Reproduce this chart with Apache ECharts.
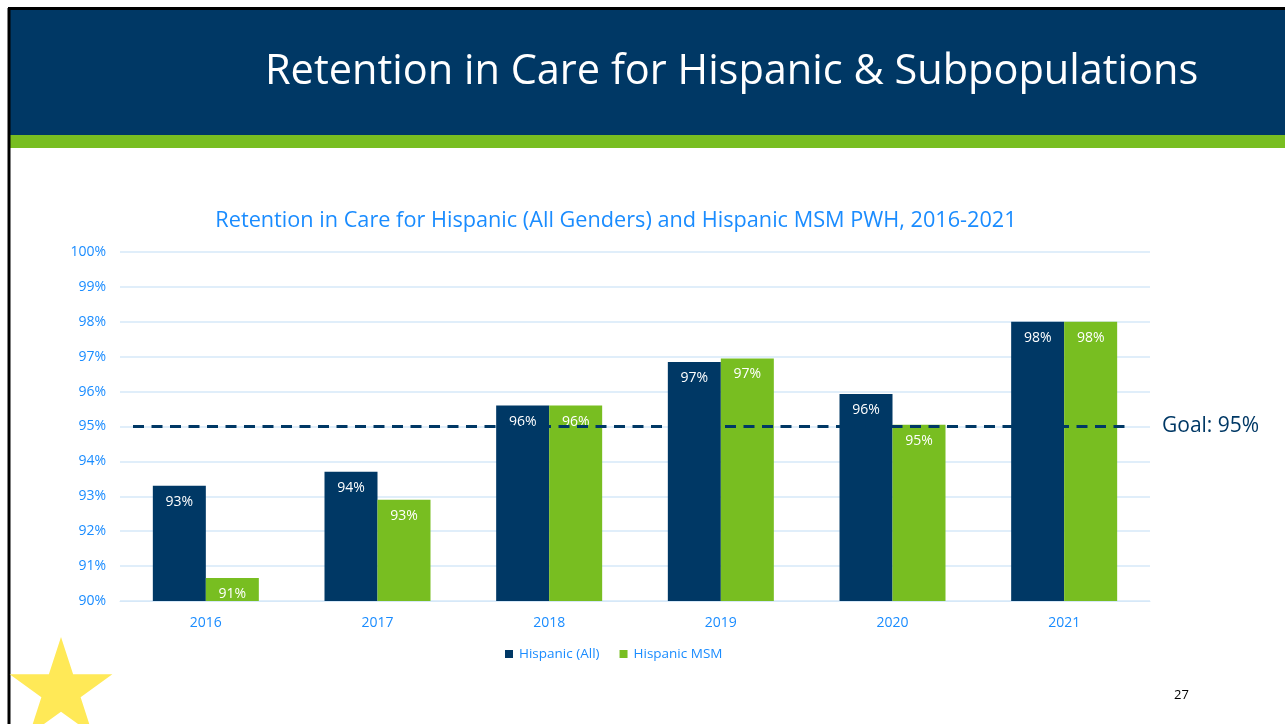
<!DOCTYPE html>
<html>
<head>
<meta charset="utf-8">
<script src="https://cdn.jsdelivr.net/npm/echarts@6/dist/echarts.min.js"></script>
<style>
  html, body { margin: 0; padding: 0; background: #fff; }
  #chart { width: 1285px; height: 724px; }
</style>
</head>
<body>
<div id="chart"></div>
<script>
// data
const years = ['2016', '2017', '2018', '2019', '2020', '2021']
const hispanicAll = [93.3, 93.7, 95.6, 96.85, 95.93, 98.0]
const hispanicMsm = [90.66, 92.9, 95.6, 96.95, 95.05, 98.0]
const goal = 95
const yTicks = [90, 91, 92, 93, 94, 95, 96, 97, 98, 99, 100]

const navy = '#003865'
const green = '#78BE21'
const blue = '#1a8cff'
const font = 'Open Sans'

const chart = echarts.init(document.getElementById('chart'))

// regular 5-point star for the corner decoration
const starPoints = (cx, cy, r) => {
  const pts = []
  for (let i = 0; i < 10; i++) {
    const rr = i % 2 === 0 ? r : r * 0.382
    const a = -Math.PI / 2 + i * Math.PI / 5
    pts.push([cx + rr * Math.cos(a), cy + rr * Math.sin(a)])
  }
  return pts
}

const barLabel = {
  show: true,
  position: 'insideTop',
  distance: 9,
  color: '#fff',
  fontFamily: font,
  fontSize: 14,
  formatter: p => Math.round(p.value) + '%'
}

chart.setOption({
  animation: false,
  textStyle: { fontFamily: font },
  graphic: [
    { type: 'rect', shape: { x: 10, y: 10, width: 1275, height: 125 }, style: { fill: navy } },
    { type: 'rect', shape: { x: 10, y: 135, width: 1275, height: 13 }, style: { fill: green } },
    { type: 'line', shape: { x1: 8, y1: 8.5, x2: 1285, y2: 8.5 }, style: { stroke: '#000', lineWidth: 3 } },
    { type: 'line', shape: { x1: 9, y1: 8, x2: 9, y2: 724 }, style: { stroke: '#000', lineWidth: 3 } },
    {
      type: 'text', left: 265, top: 51,
      style: { text: 'Retention in Care for Hispanic & Subpopulations', fill: '#fff', font: '41.5px "Open Sans"' }
    },
    { type: 'polygon', shape: { points: starPoints(61, 691, 54) }, style: { fill: '#FFE957' } },
    { type: 'text', left: 1174, top: 689, style: { text: '27', fill: '#000', font: '13px "Open Sans"' } }
  ],
  title: {
    text: 'Retention in Care for Hispanic (All Genders) and Hispanic MSM PWH, 2016-2021',
    left: 611,
    textAlign: 'center',
    top: 205,
    textStyle: { color: blue, fontFamily: font, fontSize: 21.7, fontWeight: 'normal' }
  },
  legend: {
    left: 500,
    top: 642,
    itemWidth: 8,
    itemHeight: 8,
    itemGap: 20,
    icon: 'rect',
    textStyle: { color: blue, fontFamily: font, fontSize: 13.5, padding: [0, 0, 0, 1] },
    data: ['Hispanic (All)', 'Hispanic MSM']
  },
  grid: [
    { left: 120, right: 135, top: 252, bottom: 123 },
    { left: 133, right: 160, top: 252, bottom: 123 }
  ],
  xAxis: [
    {
      type: 'category',
      gridIndex: 0,
      data: years,
      axisLine: { lineStyle: { color: '#d6e8f8' } },
      axisTick: { show: false },
      axisLabel: { color: blue, fontSize: 14, margin: 15, fontFamily: font }
    },
    {
      type: 'category',
      gridIndex: 1,
      data: ['', ''],
      boundaryGap: false,
      show: false
    }
  ],
  yAxis: [
    {
      type: 'value',
      gridIndex: 0,
      min: yTicks[0],
      max: yTicks[yTicks.length - 1],
      interval: 1,
      axisLabel: { color: blue, fontSize: 14, margin: 14, fontFamily: font, formatter: v => v + '%' },
      splitLine: { lineStyle: { color: '#d6e8f8', width: 1.5 } },
      axisLine: { show: false },
      axisTick: { show: false }
    },
    {
      type: 'value',
      gridIndex: 1,
      min: yTicks[0],
      max: yTicks[yTicks.length - 1],
      show: false
    }
  ],
  series: [
    {
      name: 'Hispanic (All)',
      type: 'bar',
      data: hispanicAll,
      barWidth: 53,
      barGap: '0%',
      itemStyle: { color: navy },
      label: barLabel
    },
    {
      name: 'Hispanic MSM',
      type: 'bar',
      data: hispanicMsm,
      barWidth: 53,
      barGap: '0%',
      itemStyle: { color: green },
      label: barLabel
    },
    {
      name: 'Goal',
      type: 'line',
      xAxisIndex: 1,
      yAxisIndex: 1,
      data: [goal, goal],
      symbol: 'none',
      z: 5,
      lineStyle: { color: navy, width: 3, type: [11, 7.5] },
      endLabel: {
        show: true,
        formatter: 'Goal: ' + goal + '%',
        color: navy,
        fontFamily: font,
        fontSize: 21,
        distance: 37
      }
    }
  ]
})
</script>
</body>
</html>
